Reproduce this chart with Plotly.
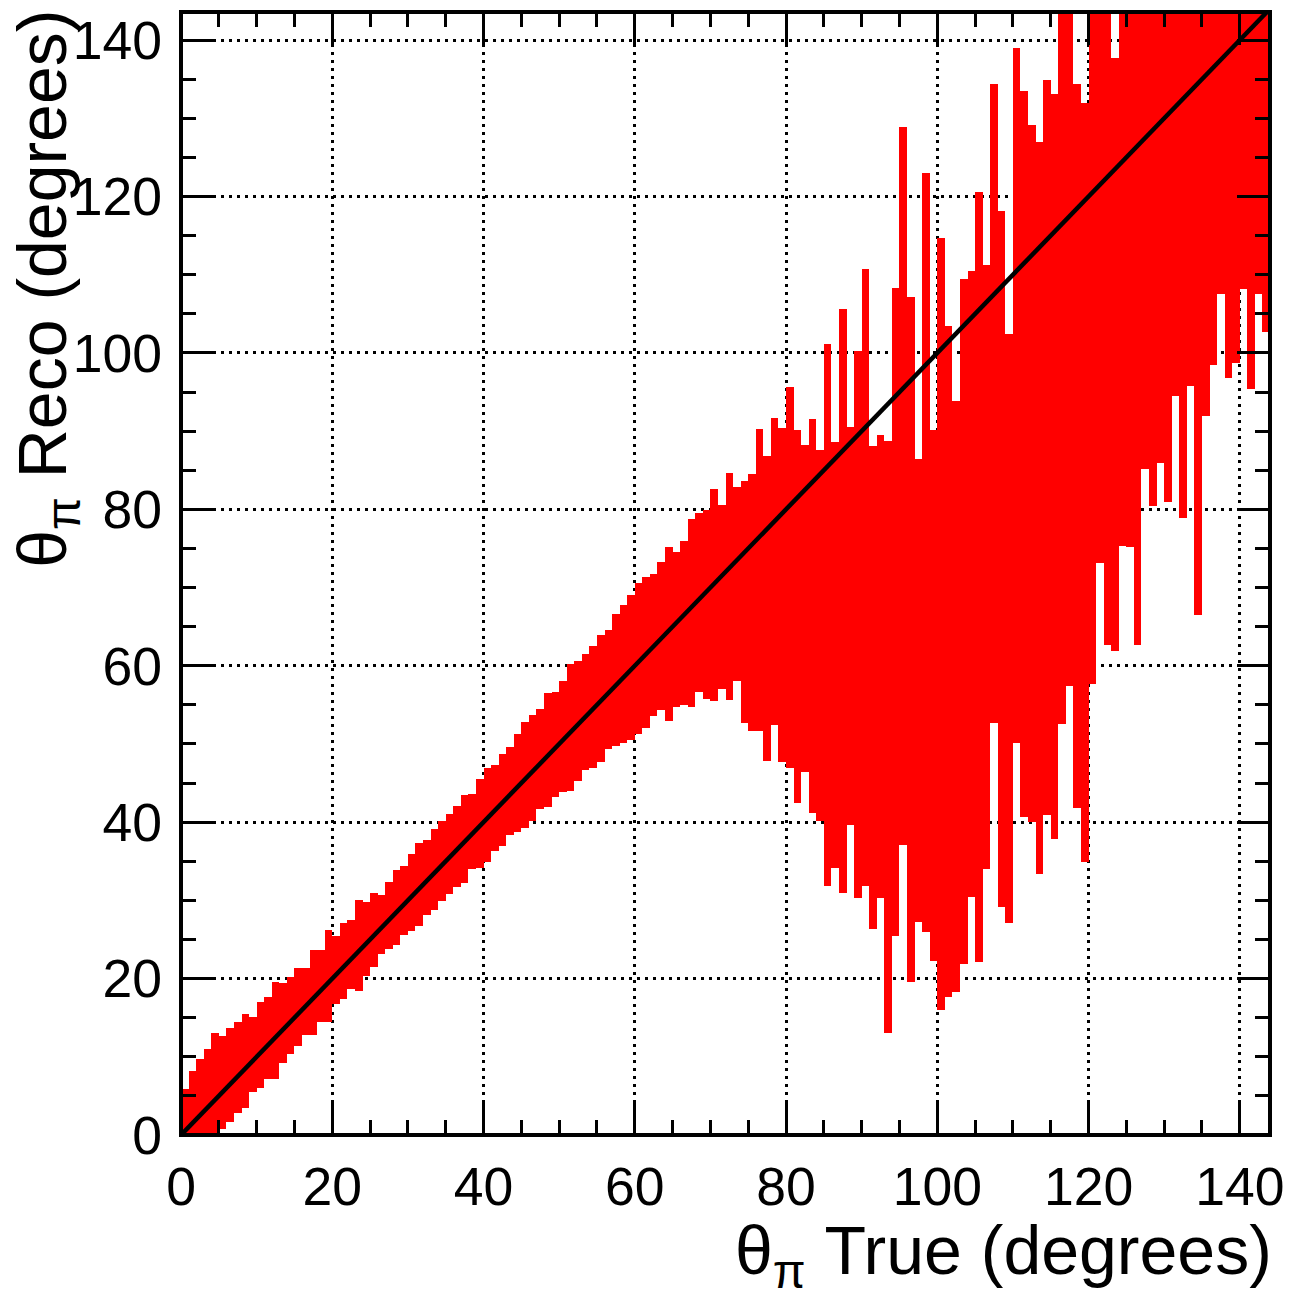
import plotly.graph_objects as go

bin_centers = [i + 0.5 for i in range(144)]

reco_high = [
    5.9, 8.2, 9.7, 11.0, 13.0, 12.6, 13.7, 14.4, 15.5, 15.1,
    17.0, 17.6, 19.6, 19.5, 20.2, 21.3, 21.3, 23.6, 23.7, 26.2,
    25.4, 27.1, 27.5, 30.0, 29.8, 30.9, 30.7, 32.3, 33.9, 34.4,
    35.9, 37.3, 37.7, 39.1, 40.2, 41.0, 42.1, 43.5, 43.6, 45.5,
    46.9, 47.3, 48.7, 49.6, 51.3, 52.8, 53.7, 54.5, 56.5, 56.7,
    58.1, 60.2, 60.6, 61.5, 62.5, 64.0, 64.6, 66.6, 67.8, 69.1,
    70.6, 71.3, 71.8, 73.3, 75.2, 74.6, 76.0, 78.8, 79.5, 79.9,
    82.6, 80.5, 84.6, 82.9, 83.6, 84.5, 90.3, 86.8, 91.7, 90.4,
    95.7, 90.2, 88.2, 91.5, 87.6, 101.2, 88.6, 105.6, 90.5, 100.3,
    110.7, 88.1, 89.5, 88.8, 108.3, 128.9, 107.2, 86.4, 123.0, 90.2,
    114.7, 103.5, 93.9, 109.5, 110.5, 120.6, 111.3, 134.4, 118.2, 102.4,
    139.0, 133.5, 129.1, 127.0, 134.9, 133.1, 150, 150, 134.4, 132.0,
    150, 150, 150, 137.7, 150, 150, 150, 150, 150, 150,
    150, 150, 150, 150, 150, 150, 150, 150, 150, 150,
    150, 150, 150, 150,
]

reco_low = [
    0, 0, 0, 0, 0, 0.8, 1.7, 2.8, 3.4, 5.5,
    6.0, 7.2, 7.2, 9.2, 10.3, 11.4, 12.8, 12.8, 14.5, 14.5,
    16.8, 17.4, 18.7, 18.4, 20.3, 21.5, 23.2, 23.8, 24.3, 25.6,
    26.1, 26.7, 28.1, 28.8, 29.9, 30.8, 31.7, 32.2, 34.0, 34.2,
    34.9, 36.3, 37.0, 38.4, 38.7, 39.2, 40.1, 41.7, 42.0, 43.2,
    43.9, 44.0, 45.3, 46.7, 46.9, 47.7, 49.4, 49.8, 50.1, 50.5,
    51.3, 52.0, 53.6, 54.3, 53.0, 54.7, 55.0, 54.7, 56.7, 55.7,
    55.5, 57.0, 55.6, 58.0, 52.7, 51.7, 51.7, 47.8, 52.4, 47.7,
    46.9, 42.5, 46.4, 41.2, 40.2, 31.8, 34.1, 31.0, 39.6, 30.3,
    31.9, 26.3, 30.3, 13.0, 25.4, 37.1, 19.6, 27.2, 26.0, 22.3,
    16.0, 17.7, 18.3, 21.9, 30.4, 22.1, 34.0, 52.7, 29.2, 27.1,
    50.1, 40.7, 40.0, 33.4, 40.9, 37.9, 52.6, 57.4, 41.8, 34.9,
    57.7, 73.2, 62.7, 61.9, 75.3, 75.2, 62.7, 85.2, 80.4, 85.9,
    80.9, 94.5, 78.9, 95.8, 66.5, 91.9, 98.5, 107.5, 96.8, 98.7,
    108.2, 95.4, 107.5, 102.7,
]

diagonal = [0, 144]
tick_values = [0, 20, 40, 60, 80, 100, 120, 140]
tick_labels = ["0", "20", "40", "60", "80", "100", "120", "140"]

fig = go.Figure()
fig.add_trace(go.Bar(
    x=bin_centers,
    y=[h - l for h, l in zip(reco_high, reco_low)],
    base=reco_low,
    width=1,
    marker=dict(color="#ff0000", line=dict(width=0)),
    hoverinfo="skip",
))
fig.add_trace(go.Scatter(
    x=diagonal, y=diagonal, mode="lines",
    line=dict(color="black", width=4.5),
    hoverinfo="skip",
))

axis = dict(
    tickmode="array",
    tickvals=tick_values,
    ticktext=tick_labels,
    ticks="inside",
    ticklen=33,
    tickwidth=2.5,
    tickcolor="black",
    showline=False,
    mirror="ticks",
    layer="above traces",
    zeroline=False,
    showgrid=True,
    gridcolor="black",
    gridwidth=2.5,
    griddash="3px,5px",
    tickfont=dict(family="Liberation Sans", size=53.5, color="black"),
    minor=dict(ticks="inside", ticklen=15, tickwidth=2.5, tickcolor="black",
               dtick=5, tick0=0, showgrid=False),
)

fig.update_layout(
    width=1293, height=1292,
    margin=dict(l=181, r=23, t=12, b=157, autoexpand=False),
    paper_bgcolor="white", plot_bgcolor="white",
    showlegend=False, bargap=0,
    xaxis=dict(**axis, range=[0, 144], ticklabelstandoff=15),
    yaxis=dict(**axis, range=[0, 143.6], ticklabelstandoff=18),
    font=dict(family="Liberation Sans", color="black"),
    shapes=[dict(type="rect", xref="paper", yref="paper", x0=0, y0=0, x1=1, y1=1,
                 line=dict(color="black", width=4), layer="above")],
    annotations=[
        dict(text="θ<sub>π</sub> True (degrees)", xref="paper", yref="paper",
             x=1.0037, y=-0.067, xanchor="right", yanchor="top", showarrow=False,
             font=dict(size=68)),
        dict(text="θ<sub>π</sub> Reco (degrees)", xref="paper", yref="paper",
             x=-0.165, y=1.004, xanchor="left", yanchor="top", showarrow=False,
             textangle=-90, font=dict(size=68)),
    ],
)

assert len(reco_high) == 144 and len(reco_low) == 144
fig.write_html("out.html", config={"displayModeBar": False},
               post_script="document.body.style.margin='0';")
